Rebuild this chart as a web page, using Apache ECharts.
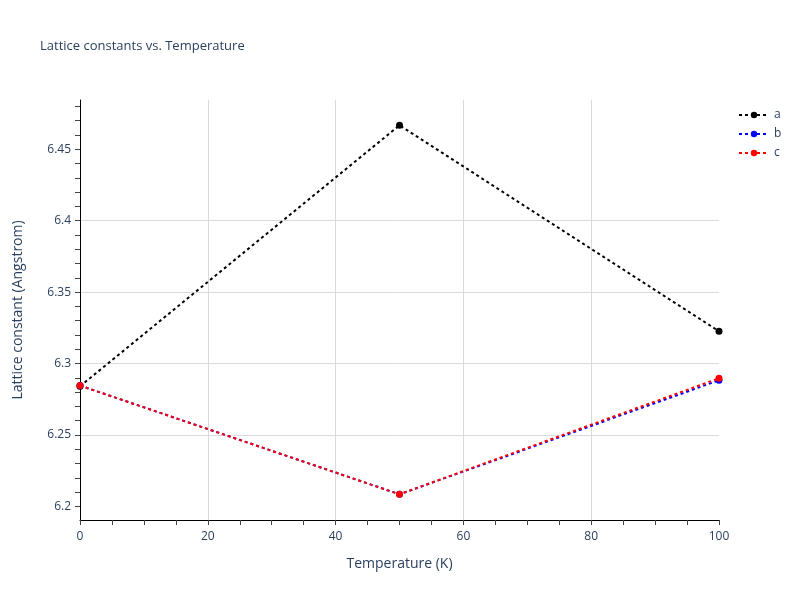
<!DOCTYPE html>
<html><head><meta charset="utf-8">
<script src="https://cdn.jsdelivr.net/npm/echarts@6/dist/echarts.min.js"></script>
<style>html,body{margin:0;padding:0;background:#fff}#c{width:800px;height:600px}</style>
</head><body><div id="c"></div>
<script>
const temperatures = [0, 50, 100];
const seriesA = [6.2841, 6.4668, 6.3226];
const seriesB = [6.2846, 6.2085, 6.2883];
const seriesC = [6.2846, 6.2085, 6.2897];
const seriesNames = ['a', 'b', 'c'];
const seriesColors = ['#000000', '#0000ff', '#ff0000'];
const yTickLabels = [6.2, 6.25, 6.3, 6.35, 6.4, 6.45];
const xTickLabels = [0, 20, 40, 60, 80, 100];

const yMin = 6.1905, yMax = 6.4845;
const yMinor = [];
for (let i = 1; i <= 29; i++) yMinor.push(+(6.19 + i * 0.01).toFixed(2));

const font = '"Open Sans", Verdana, Arial, sans-serif';
const txt = '#2a3f5f';
const gridColor = '#dadada';
const all = [seriesA, seriesB, seriesC];

const chart = echarts.init(document.getElementById('c'), null, {renderer: 'canvas'});
chart.setOption({
  animation: false,
  backgroundColor: '#fff',
  title: {
    text: 'Lattice constants vs. Temperature',
    left: 35, top: 35,
    textStyle: {fontFamily: font, fontSize: 13, fontWeight: 'normal', color: txt}
  },
  legend: {
    orient: 'vertical', left: 733, top: 104, itemGap: 7,
    itemWidth: 30, itemHeight: 8,
    textStyle: {fontFamily: font, fontSize: 12, color: txt},
    data: seriesNames
  },
  grid: {left: 80, right: 81, top: 100, bottom: 80, containLabel: false},
  xAxis: {
    type: 'value', min: xTickLabels[0], max: xTickLabels[xTickLabels.length - 1], interval: 20,
    name: 'Temperature (K)', nameLocation: 'middle', nameGap: 37,
    nameTextStyle: {fontFamily: font, fontSize: 14, color: txt},
    axisLine: {show: true, lineStyle: {color: '#000', width: 1}},
    axisTick: {show: true, length: 5, lineStyle: {color: '#444'}},
    minorTick: {show: true, splitNumber: 4, length: 5, lineStyle: {color: '#444'}},
    axisLabel: {fontFamily: font, fontSize: 12, color: txt, margin: 11},
    splitLine: {show: true, showMinLine: false, showMaxLine: false, lineStyle: {color: gridColor, width: 1}}
  },
  yAxis: [{
    type: 'value', min: yMin, max: yMax,
    name: 'Lattice constant (Angstrom)', nameLocation: 'middle', nameGap: 55,
    nameTextStyle: {fontFamily: font, fontSize: 14, color: txt},
    axisLine: {show: true, lineStyle: {color: '#000', width: 1}},
    axisTick: {show: true, length: 5, customValues: yMinor, lineStyle: {color: '#444'}},
    axisLabel: {fontFamily: font, fontSize: 12, color: txt, margin: 9, customValues: yTickLabels,
      formatter: v => String(+v.toFixed(2))},
    splitLine: {show: false}
  }, {
    type: 'value', min: yMin, max: yMax, position: 'left',
    axisLine: {show: false},
    axisTick: {show: false, customValues: yTickLabels},
    axisLabel: {show: false, customValues: yTickLabels},
    splitLine: {show: true, showMinLine: false, showMaxLine: false, lineStyle: {color: gridColor, width: 1}}
  }],
  series: seriesNames.map((n, i) => ({
    name: n, type: 'line', yAxisIndex: 0,
    data: temperatures.map((t, j) => [t, all[i][j]]),
    symbol: 'circle', symbolSize: 7, showSymbol: true,
    itemStyle: {color: seriesColors[i]},
    lineStyle: {color: seriesColors[i], width: 2, type: [3, 3]},
    z: 2 + i
  }))
});
</script></body></html>
